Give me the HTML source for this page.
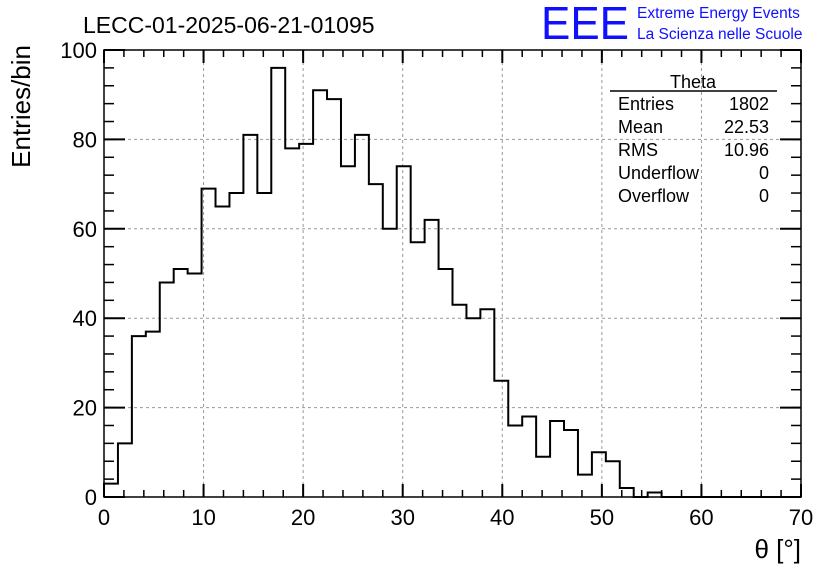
<!DOCTYPE html>
<html><head><meta charset="utf-8"><style>
body{margin:0;background:#fff;}
svg{font-family:"Liberation Sans",sans-serif;}
</style></head><body>
<svg id="c" width="836" height="572" xmlns="http://www.w3.org/2000/svg">
<rect width="836" height="572" fill="#fff"/>
<text x="83" y="33" font-size="23">LECC-01-2025-06-21-01095</text>
<text x="541" y="39" font-size="46" fill="#1010ff" textLength="88" lengthAdjust="spacingAndGlyphs">EEE</text>
<text x="637" y="18" font-size="15.5" fill="#1010ff">Extreme Energy Events</text>
<text x="637" y="39" font-size="15.5" fill="#1010ff">La Scienza nelle Scuole</text>
<g id="grid"></g>
<path id="hist" fill="none" stroke="#000" stroke-width="2"/>
<rect x="104" y="50" width="697" height="447" fill="none" stroke="#000" stroke-width="1.5"/>
<g id="ticks"></g>
<text x="30" y="45" font-size="26" transform="rotate(-90 30 45)" text-anchor="end">Entries/bin</text>
<text x="801" y="558" font-size="26" text-anchor="end">θ [°]</text>
<g>
<text x="693" y="88" font-size="18" text-anchor="middle">Theta</text>
<line x1="610" y1="91" x2="777" y2="91" stroke="#000" stroke-width="1.5"/>
<text x="618" y="110" font-size="18">Entries</text><text x="769" y="110" font-size="18" text-anchor="end">1802</text>
<text x="618" y="133" font-size="18">Mean</text><text x="769" y="133" font-size="18" text-anchor="end">22.53</text>
<text x="618" y="156" font-size="18">RMS</text><text x="769" y="156" font-size="18" text-anchor="end">10.96</text>
<text x="618" y="179" font-size="18">Underflow</text><text x="769" y="179" font-size="18" text-anchor="end">0</text>
<text x="618" y="202" font-size="18">Overflow</text><text x="769" y="202" font-size="18" text-anchor="end">0</text>
</g>
</svg>
<script>
const counts=[3,12,36,37,48,51,50,69,65,68,81,68,96,78,79,91,89,74,81,70,60,74,57,62,51,43,40,42,26,16,18,9,17,15,5,10,8,2,0,1,0,0,0,0,0,0,0,0,0,0];
const xTicks=[0,10,20,30,40,50,60,70];
const yTicks=[0,20,40,60,80,100];
const binWidth=1.4;
const X=v=>104+v*(697/70);
const Y=v=>497-v*(447/100);
const NS="http://www.w3.org/2000/svg";
const grid=document.getElementById('grid'),tk=document.getElementById('ticks');
function ln(p,x1,y1,x2,y2,st,w,d){const l=document.createElementNS(NS,'line');l.setAttribute('x1',x1);l.setAttribute('y1',y1);l.setAttribute('x2',x2);l.setAttribute('y2',y2);l.setAttribute('stroke',st);l.setAttribute('stroke-width',w);if(d)l.setAttribute('stroke-dasharray',d);p.appendChild(l);return l;}
function tx(p,x,y,s,a){const t=document.createElementNS(NS,'text');t.setAttribute('x',x);t.setAttribute('y',y);t.setAttribute('font-size',22);t.setAttribute('text-anchor',a);t.textContent=s;p.appendChild(t);return t;}
xTicks.forEach(v=>{const x=X(v);
 if(v>0&&v<70){const g=ln(grid,x,50,x,497,'#999',1,'3,3');}
 ln(tk,x,497,x,484,'#000',2);ln(tk,x,50,x,63,'#000',2);
 const t=tx(tk,x,525,String(v),'middle');
 
 
});
for(let v=0;v<=70;v+=2){const x=X(v);ln(tk,x,497,x,490,'#000',1.5);ln(tk,x,50,x,57,'#000',1.5);}
yTicks.forEach(v=>{const y=Y(v);
 if(v>0&&v<100){const g=ln(grid,104,y,801,y,'#999',1,'3,3');}
 ln(tk,104,y,125,y,'#000',2);ln(tk,801,y,780,y,'#000',2);
 const t=tx(tk,97,y+8,String(v),'end');
 
 
});
for(let v=0;v<=100;v+=4){const y=Y(v);ln(tk,104,y,114,y,'#000',1.5);ln(tk,801,y,791,y,'#000',1.5);}
let d='M'+X(0)+','+Y(0);
counts.forEach((c,i)=>{d+=' L'+X(i*binWidth)+','+Y(c)+' L'+X((i+1)*binWidth)+','+Y(c);});
document.getElementById('hist').setAttribute('d',d);
</script>
</body></html>
